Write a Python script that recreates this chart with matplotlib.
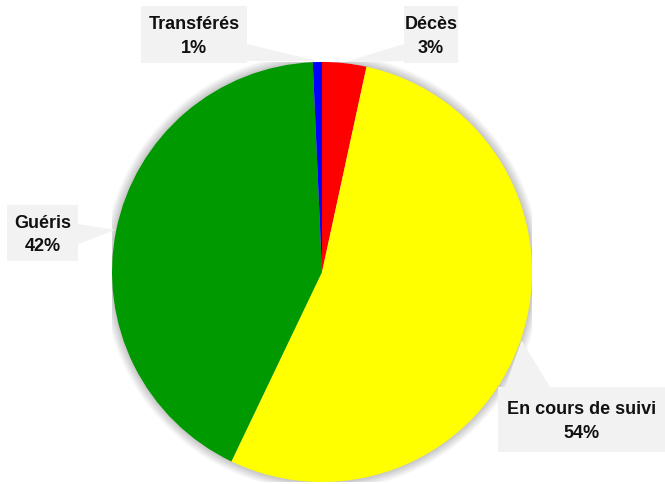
import numpy as np
import matplotlib
matplotlib.use("Agg")
import matplotlib.pyplot as plt
from matplotlib.patches import Circle, Polygon, FancyBboxPatch

# données du graphique
categories = ["Décès", "En cours de suivi", "Guéris", "Transférés"]
valeurs = [3.4, 53.7, 42.2, 0.7]
couleurs = ["#ff0000", "#ffff00", "#009900", "#0000ff"]

plt.rcParams['font.family'] = ['Liberation Sans', 'DejaVu Sans']

W, H = 665, 485
fig = plt.figure(figsize=(W / 100, H / 100), dpi=100)

# position du camembert en pixels
cx, cy, r = 322, 273, 210
ax = fig.add_axes([(cx - r) / W, (H - cy - r) / H, 2 * r / W, 2 * r / H])

# ombre douce
for k in range(12):
    ax.add_patch(Circle((0, 0), 1.0 + k * 0.004, color="black", alpha=0.018, zorder=0, lw=0))

wedges, _ = ax.pie(valeurs, colors=couleurs, startangle=90, counterclock=False,
                   radius=1, wedgeprops=dict(linewidth=0))
for w in wedges:
    w.set_zorder(2)
ax.set_xlim(-1, 1)
ax.set_ylim(-1, 1)
ax.set_aspect("equal")
ax.axis("off")

# couche des étiquettes en coordonnées pixels
lay = fig.add_axes([0, 0, 1, 1], zorder=3)
lay.set_xlim(0, W)
lay.set_ylim(H, 0)
lay.axis("off")

# boites : (x0, y0, x1, y1)
boites = {
    "Décès": (404, 7, 458, 64),
    "En cours de suivi": (498, 388, 665, 453),
    "Guéris": (7, 206, 78, 262),
    "Transférés": (141, 7, 247, 64),
}
ancrages = {
    "Décès": [(404, 45), (404, 62)],
    "En cours de suivi": [(505, 388), (550, 388)],
    "Guéris": [(78, 225), (78, 245)],
    "Transférés": [(247, 45), (247, 62)],
}

total = sum(valeurs)
cum = 0
for nom, v in zip(categories, valeurs):
    mid = (cum + v / 2) / total * 360
    cum += v
    a = np.radians(90 - mid)
    tx = cx + r * 1.005 * np.cos(a)
    ty = cy - r * 1.005 * np.sin(a)
    x0, y0, x1, y1 = boites[nom]
    lay.add_patch(Polygon([ancrages[nom][0], ancrages[nom][1], (tx, ty)],
                          closed=True, fc="#f2f2f2", ec="none", zorder=1))
    lay.add_patch(FancyBboxPatch((x0, y0), x1 - x0, y1 - y0, boxstyle="square,pad=0",
                                 fc="#f2f2f2", ec="none", zorder=1))
    lay.text((x0 + x1) / 2, (y0 + y1) / 2 + 1, f"{nom}\n{round(v / total * 100):.0f}%",
             ha="center", va="center", fontsize=13, fontweight="bold",
             color="#111111", linespacing=1.5, zorder=2)

fig.savefig("out.png", dpi=100, facecolor="white")
